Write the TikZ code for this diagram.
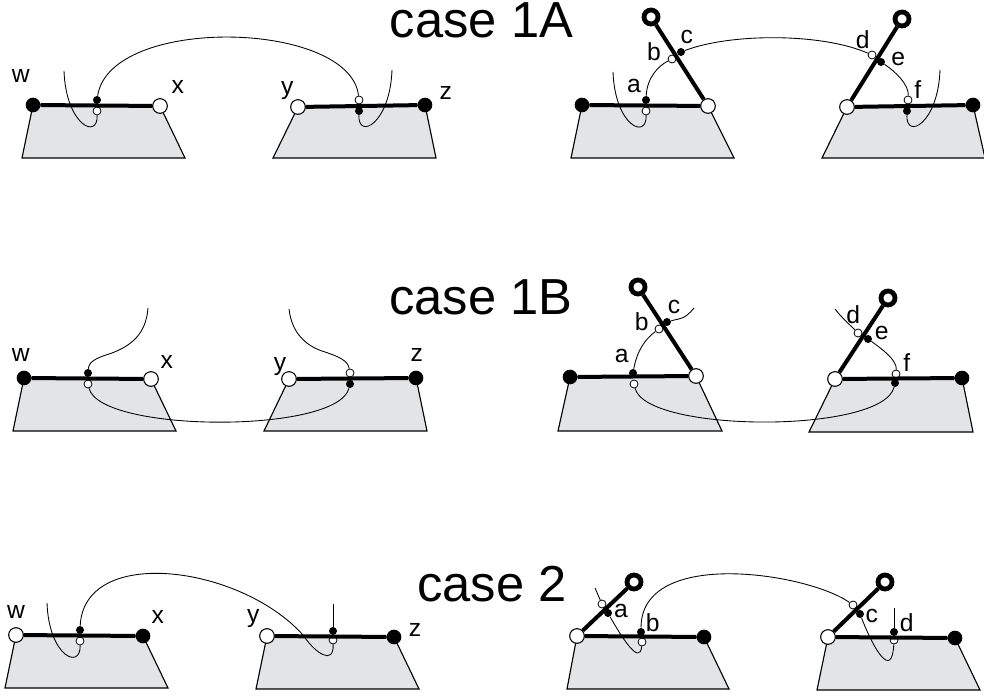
\documentclass[tikz,border=0pt]{standalone}
\usepackage{fontspec}
\setmainfont{Liberation Sans}
\usepackage{tikz}
\definecolor{plategray}{HTML}{E3E4E6}
\tikzset{
    plate/.style={draw, fill=plategray, line width=0.85pt, line join=miter},
    arm/.style={line width=3pt},
    arc/.style={line width=0.65pt},
    bigblack/.style={circle, fill=black, inner sep=0pt, minimum size=11pt},
    bigwhite/.style={circle, draw, fill=white, line width=0.8pt, inner sep=0pt, minimum size=11pt},
    dotblack/.style={circle, fill=black, inner sep=0pt, minimum size=6pt},
    dotwhite/.style={circle, draw, fill=white, line width=0.6pt, inner sep=0pt, minimum size=6pt},
    ring/.style={circle, draw, fill=white, line width=3.6pt, inner sep=0pt, minimum size=10.5pt},
    lab/.style={inner sep=0pt, font=\fontsize{18.5}{20}\selectfont},
    title/.style={inner sep=0pt, anchor=base, font=\fontsize{38}{40}\selectfont}
}
\begin{document}
\begin{tikzpicture}[x=0.75pt, y=-0.75pt]
    \useasboundingbox (0,0) rectangle (984,698);
    % gray plates
    \draw[plate] (22,158) -- (185,158) -- (160,106) -- (33,105) -- cycle;
    \draw[plate] (273,158) -- (436,158) -- (425,105) -- (298,107) -- cycle;
    \draw[plate] (571,158) -- (734,158) -- (708,106) -- (582,105) -- cycle;
    \draw[plate] (822,158) -- (985,158) -- (973,105) -- (847,107) -- cycle;
    \draw[plate] (13,431) -- (176,431) -- (151,379) -- (24,378) -- cycle;
    \draw[plate] (264,431) -- (427,431) -- (416,378) -- (289,379) -- cycle;
    \draw[plate] (558,431) -- (722,431) -- (696,376) -- (570,377) -- cycle;
    \draw[plate] (809,432) -- (973,432) -- (962,378) -- (835,379) -- cycle;
    \draw[plate] (5,688) -- (168,688) -- (143,636) -- (16,635) -- cycle;
    \draw[plate] (256,689) -- (419,689) -- (394,637) -- (267,636) -- cycle;
    \draw[plate] (567,689) -- (729,689) -- (704,637) -- (577,636) -- cycle;
    \draw[plate] (817,690) -- (980,690) -- (955,638) -- (828,637) -- cycle;

    % case 1A
    \node[title] (atitle) at (481.5,38) {case 1A};
    \node[bigblack] (aLw) at (33,105) {};
    \node[bigwhite] (aLx) at (160,106) {};
    \node[bigwhite] (aLy) at (298,107) {};
    \node[bigblack] (aLz) at (425,105) {};
    \node[dotblack] (aLp) at (97,100) {};
    \node[dotwhite] (aLq) at (97,111) {};
    \node[dotwhite] (aLr) at (359,100) {};
    \node[dotblack] (aLs) at (359,111) {};
    \coordinate (aLt) at (64,71);
    \coordinate (aLu) at (392,70);
    \draw[arm] (aLw) -- (aLx);
    \draw[arm] (aLy) -- (aLz);
    \draw[arc] (aLp) .. controls +(13,-85) and +(-9,-80) .. (aLr);
    \draw[arc] (aLt) .. controls +(2,54) and +(1,29) .. (aLq);
    \draw[arc] (aLu) .. controls +(-2,54) and +(-1,29) .. (aLs);
    \node[lab] (aLlw) at (20.7,76) {w};
    \node[lab] (aLlx) at (177.7,87.3) {x};
    \node[lab] (aLly) at (287.3,90.7) {y};
    \node[lab] (aLlz) at (445.7,93.3) {z};

    \node[bigblack] (aRw) at (582,105) {};
    \node[bigwhite] (aRx) at (708,106) {};
    \node[ring] (aRm) at (651,17) {};
    \node[bigwhite] (aRy) at (847,107) {};
    \node[bigblack] (aRz) at (973,105) {};
    \node[ring] (aRn) at (902,19) {};
    \node[dotblack] (aRa) at (646,100) {};
    \node[dotwhite] (aRq) at (646,111) {};
    \node[dotwhite] (aRb) at (672,59) {};
    \node[dotblack] (aRc) at (681,52) {};
    \node[dotwhite] (aRd) at (872,55) {};
    \node[dotblack] (aRe) at (881,62) {};
    \node[dotwhite] (aRf) at (908,100) {};
    \node[dotblack] (aRs) at (907,111) {};
    \coordinate (aRt) at (613,72);
    \coordinate (aRu) at (940,70);
    \draw[arm] (aRw) -- (aRx);
    \draw[arm] (aRx) -- (aRm);
    \draw[arm] (aRy) -- (aRz);
    \draw[arm] (aRy) -- (aRn);
    \draw[arc] (aRa) .. controls +(1,-22) and +(-14,7) .. (aRb);
    \draw[arc] (aRc) .. controls +(50,-19) and +(-50,-22) .. (aRd);
    \draw[arc] (aRe) .. controls +(15,10) and +(1,-15) .. (aRf);
    \draw[arc] (aRt) .. controls +(2,54) and +(1,29) .. (aRq);
    \draw[arc] (aRu) .. controls +(-2,54) and +(-1,29) .. (aRs);
    \node[lab] (aRla) at (634,86) {a};
    \node[lab] (aRlb) at (654,52) {b};
    \node[lab] (aRlc) at (686.7,36.7) {c};
    \node[lab] (aRld) at (862.7,39.3) {d};
    \node[lab] (aRle) at (898.3,59.3) {e};
    \node[lab] (aRlf) at (917.7,90) {f};

    % case 1B
    \node[title] (btitle) at (481,315) {case 1B};
    \node[bigblack] (bLw) at (24,378) {};
    \node[bigwhite] (bLx) at (151,379) {};
    \node[bigwhite] (bLy) at (289,379) {};
    \node[bigblack] (bLz) at (416,378) {};
    \node[dotblack] (bLp) at (88,373) {};
    \node[dotwhite] (bLq) at (88,384) {};
    \node[dotwhite] (bLr) at (350,373) {};
    \node[dotblack] (bLs) at (350,384) {};
    \coordinate (bLt) at (148,308);
    \coordinate (bLu) at (289,309);
    \draw[arm] (bLw) -- (bLx);
    \draw[arm] (bLy) -- (bLz);
    \draw[arc] (bLq) .. controls +(12,49) and +(-12,50) .. (bLs);
    \draw[arc] (bLt) .. controls (146,335) and (130,346) .. (112,353) .. controls (100,357) and (89,360) .. (bLp);
    \draw[arc] (bLu) .. controls (292,335) and (308,347) .. (325,352) .. controls (340,357) and (348,361) .. (bLr);
    \node[lab] (bLlw) at (20.7,355) {w};
    \node[lab] (bLlx) at (166.7,362.3) {x};
    \node[lab] (bLly) at (280,366.7) {y};
    \node[lab] (bLlz) at (416.7,355) {z};

    \node[bigblack] (bRw) at (570,377) {};
    \node[bigwhite] (bRx) at (696,376) {};
    \node[ring] (bRm) at (638,287) {};
    \node[bigwhite] (bRy) at (835,379) {};
    \node[bigblack] (bRz) at (962,378) {};
    \node[ring] (bRn) at (888,298) {};
    \node[dotblack] (bRa) at (633,373) {};
    \node[dotwhite] (bRq) at (634,384) {};
    \node[dotwhite] (bRb) at (659,329) {};
    \node[dotblack] (bRc) at (667,322) {};
    \node[dotwhite] (bRd) at (858,333) {};
    \node[dotblack] (bRe) at (868,339) {};
    \node[dotwhite] (bRf) at (896,374) {};
    \node[dotblack] (bRs) at (895,383) {};
    \coordinate (bRt) at (694,308);
    \coordinate (bRu) at (835,309);
    \draw[arm] (bRw) -- (bRx);
    \draw[arm] (bRx) -- (bRm);
    \draw[arm] (bRy) -- (bRz);
    \draw[arm] (bRy) -- (bRn);
    \draw[arc] (bRa) .. controls +(4,-22) and +(-14,10) .. (bRb);
    \draw[arc] (bRc) .. controls +(14,-4) and +(-10,12) .. (bRt);
    \draw[arc] (bRu) .. controls +(6,8) and +(-8,-8) .. (bRd);
    \draw[arc] (bRe) .. controls +(14,10) and +(1,-14) .. (bRf);
    \draw[arc] (bRq) .. controls +(12,49) and +(-12,51) .. (bRs);
    \node[lab] (bRla) at (621.7,356) {a};
    \node[lab] (bRlb) at (641.7,321.7) {b};
    \node[lab] (bRlc) at (674,306.7) {c};
    \node[lab] (bRld) at (853.3,315) {d};
    \node[lab] (bRle) at (881.7,333.3) {e};
    \node[lab] (bRlf) at (906.7,362.7) {f};

    % case 2
    \node[title] (ctitle) at (492,601.5) {case 2};
    \node[bigwhite] (cLw) at (16,635) {};
    \node[bigblack] (cLx) at (143,636) {};
    \node[bigwhite] (cLy) at (267,636) {};
    \node[bigblack] (cLz) at (394,637) {};
    \node[dotblack] (cLp) at (80,630) {};
    \node[dotwhite] (cLq) at (80,641) {};
    \node[dotblack] (cLr) at (333,631) {};
    \node[dotwhite] (cLs) at (333,640) {};
    \coordinate (cLt) at (47,603);
    \coordinate (cLu) at (333,604);
    \draw[arm] (cLw) -- (cLx);
    \draw[arm] (cLy) -- (cLz);
    \draw[arc] (cLp) .. controls (84,545) and (240,565) .. (303,635) .. controls (315,653) and (334,666) .. (cLs);
    \draw[arc] (cLt) .. controls +(2,54) and +(1,29) .. (cLq);
    \draw[arc] (cLu) -- (cLr);
    \node[lab] (cLlw) at (16,611.7) {w};
    \node[lab] (cLlx) at (157.7,617.3) {x};
    \node[lab] (cLly) at (253.3,618.3) {y};
    \node[lab] (cLlz) at (415,630) {z};

    \node[bigwhite] (cRw) at (577,636) {};
    \node[bigblack] (cRx) at (704,637) {};
    \node[ring] (cRm) at (634,582) {};
    \node[bigwhite] (cRy) at (828,637) {};
    \node[bigblack] (cRz) at (955,638) {};
    \node[ring] (cRn) at (885,582) {};
    \node[dotwhite] (cRa) at (602,604) {};
    \node[dotblack] (cRb) at (608,613) {};
    \node[dotblack] (cRc) at (641,632) {};
    \node[dotwhite] (cRq) at (642,642) {};
    \node[dotwhite] (cRd) at (853,605) {};
    \node[dotblack] (cRe) at (860,614) {};
    \node[dotblack] (cRf) at (894,632) {};
    \node[dotwhite] (cRs) at (894,640) {};
    \coordinate (cRt) at (595,588);
    \coordinate (cRu) at (894,608);
    \draw[arm] (cRw) -- (cRx);
    \draw[arm] (cRw) -- (cRm);
    \draw[arm] (cRy) -- (cRz);
    \draw[arm] (cRy) -- (cRn);
    \draw[arc] (cRt) -- (cRa);
    \draw[arc] (cRb) .. controls +(14,25) and +(-2,24) .. (cRq);
    \draw[arc] (cRc) .. controls +(0,-85) and +(-45,-32) .. (cRd);
    \draw[arc] (cRe) .. controls +(14,36) and +(-2,40) .. (cRs);
    \draw[arc] (cRu) -- (cRf);
    \node[lab] (cRla) at (621,610.7) {a};
    \node[lab] (cRlb) at (652.7,622.3) {b};
    \node[lab] (cRlc) at (871.7,616) {c};
    \node[lab] (cRld) at (906.7,622.7) {d};
\end{tikzpicture}
\end{document}
